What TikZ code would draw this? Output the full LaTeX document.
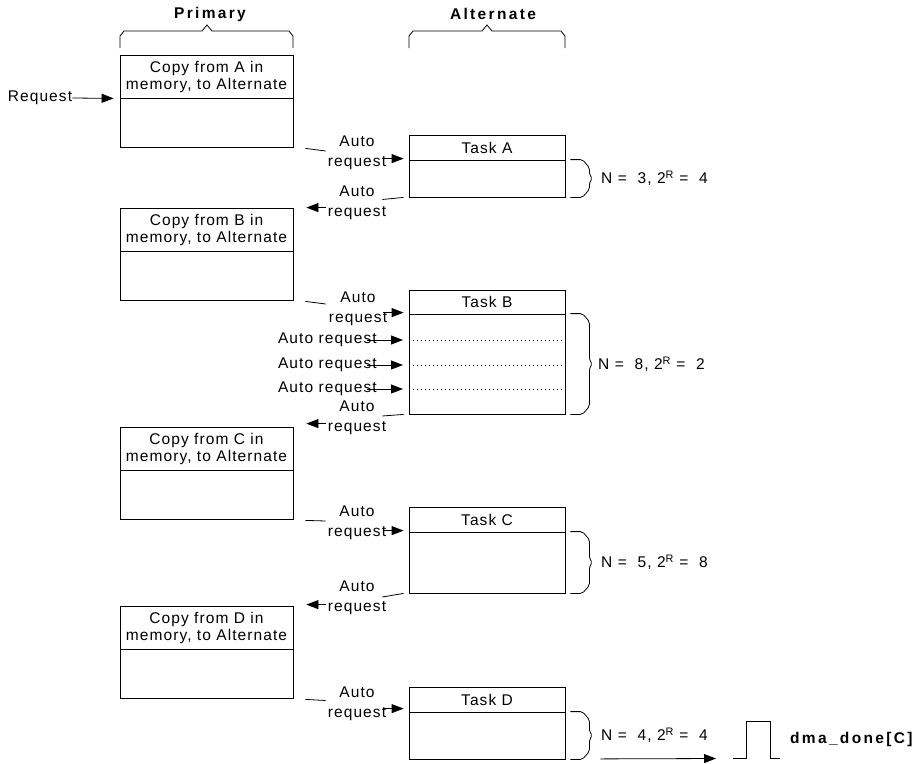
\documentclass[tikz,border=0pt]{standalone}
\usepackage{fontspec}
\setmainfont{Liberation Sans}[LetterSpace=7,BoldFeatures={LetterSpace=15}]
\usetikzlibrary{arrows.meta}

\tikzset{
	txt/.style={font=\fontsize{15.5}{20}\selectfont, inner sep=0},
	head/.style={font=\bfseries\fontsize{15.5}{20}\selectfont, inner sep=0},
	pbox/.style={shape=rectangle, draw, line width=0.8pt, minimum width=173, inner sep=0, align=center, font=\fontsize{15.5}{17}\selectfont},
	tbox/.style={shape=rectangle, draw, line width=0.8pt, minimum width=156, inner sep=0, font=\fontsize{15.5}{20}\selectfont},
	arr/.style={-{Triangle[length=12pt,width=9pt]}, line width=0.8pt},
	brc/.style={line width=0.8pt},
	dots/.style={line width=0.7pt, dash pattern=on 0.8pt off 3.2pt},
}

% right brace next to a task body
\newcommand{\sidebrace}[1]{%
	\draw[brc, rounded corners=2pt] ([shift={(5,0)}]#1.north east) -- ([shift={(17,0)}]#1.north east) -- ([shift={(24,8)}]#1.north east) -- ([shift={(24,-4)}]#1.east) -- ([shift={(27,0)}]#1.east) -- ([shift={(24,4)}]#1.east) -- ([shift={(24,-8)}]#1.south east) -- ([shift={(17,0)}]#1.south east) -- ([shift={(5,0)}]#1.south east);}

\begin{document}
\begin{tikzpicture}[x=1pt, y=-1pt]
	\useasboundingbox (0,0) rectangle (912,763);
	% Headings and brackets:
	\node[head] (Primary) at (210,14) {Primary};
	\node[head] (Alternate) at (493,14) {Alternate};
	\draw[brc] (120,48) -- (120,36) -- (124,31) -- (202,31) -- (207,25) -- (212,31) -- (289,31) -- (293,36) -- (293,48);
	\draw[brc] (409,48) -- (409,36) -- (413,31) -- (482,31) -- (487,25) -- (492,31) -- (561,31) -- (565,36) -- (565,48);
	% Primary boxes:
	\node[pbox, minimum height=43] (PrimA) at (206.5,76.5) {Copy from A in\\memory, to Alternate};
	\node[pbox, minimum height=49] (PrimAlow) at (206.5,122.5) {};
	\node[pbox, minimum height=43] (PrimB) at (206.5,229.5) {Copy from B in\\memory, to Alternate};
	\node[pbox, minimum height=49] (PrimBlow) at (206.5,275.5) {};
	\node[pbox, minimum height=43] (PrimC) at (206.5,448.5) {Copy from C in\\memory, to Alternate};
	\node[pbox, minimum height=49] (PrimClow) at (206.5,494.5) {};
	\node[pbox, minimum height=43] (PrimD) at (206.5,627.5) {Copy from D in\\memory, to Alternate};
	\node[pbox, minimum height=49] (PrimDlow) at (206.5,673.5) {};
	% Alternate boxes:
	\node[tbox, minimum height=25] (TaskA) at (487,147.5) {Task A};
	\node[tbox, minimum height=37] (TaskAbody) at (487,178.5) {};
	\node[tbox, minimum height=24] (TaskB) at (487,302) {Task B};
	\node[tbox, minimum height=100] (TaskBbody) at (487,364) {};
	\node[tbox, minimum height=25] (TaskC) at (487,519.5) {Task C};
	\node[tbox, minimum height=61] (TaskCbody) at (487,562.5) {};
	\node[tbox, minimum height=25] (TaskD) at (487,699.5) {Task D};
	\node[tbox, minimum height=47] (TaskDbody) at (487,735.5) {};
	\coordinate (DotB1) at (409,340);
	\coordinate (DotB2) at (409,365);
	\coordinate (DotB3) at (409,389);
	\draw[dots] (DotB1) -- (DotB1 -| TaskBbody.east);
	\draw[dots] (DotB2) -- (DotB2 -| TaskBbody.east);
	\draw[dots] (DotB3) -- (DotB3 -| TaskBbody.east);
	% Braces and counts:
	\sidebrace{TaskAbody}
	\sidebrace{TaskBbody}
	\sidebrace{TaskCbody}
	\sidebrace{TaskDbody}
	\node[txt, anchor=west] (CountA) at (601,178.5) {N = ~3, 2\textsuperscript{R} = ~4};
	\node[txt, anchor=west] (CountB) at (598,364) {N = ~8, 2\textsuperscript{R} = ~2};
	\node[txt, anchor=west] (CountC) at (601,562.5) {N = ~5, 2\textsuperscript{R} = ~8};
	\node[txt, anchor=west] (CountD) at (601,735.5) {N = ~4, 2\textsuperscript{R} = ~4};
	% Requests:
	\node[txt] (Request) at (40,98) {Request};
	\draw[arr] (Request.east) -- ([shift={(-6,0)}]PrimA.south west);
	\node[txt, align=center] (ReqA) at (357,153) {Auto\\request};
	\node[txt, align=center] (BackA) at (357,202.5) {Auto\\request};
	\node[txt, align=center] (ReqB) at (358,309) {Auto\\request};
	\node[txt, anchor=east] (MidB1) at (377,340) {Auto request};
	\node[txt, anchor=east] (MidB2) at (377,365) {Auto request};
	\node[txt, anchor=east] (MidB3) at (377,389) {Auto request};
	\node[txt, align=center] (BackB) at (357,418) {Auto\\request};
	\node[txt, align=center] (ReqC) at (357,523) {Auto\\request};
	\node[txt, align=center] (BackC) at (357,598) {Auto\\request};
	\node[txt, align=center] (ReqD) at (357,703.5) {Auto\\request};
	\draw[line width=0.8pt] ([shift={(12,1)}]PrimAlow.south east) -- ([shift={(-2,-2)}]ReqA.west);
	\draw[arr] ([shift={(-26,-1)}]TaskAbody.north west) -- ([shift={(-5,-1)}]TaskAbody.north west);
	\draw[line width=0.8pt] ([shift={(-5,0)}]TaskAbody.south west) -- ([shift={(-4,-3)}]BackA.east);
	\draw[arr] ([shift={(33,0)}]PrimB.north east) -- ([shift={(13,0)}]PrimB.north east);
	\draw[line width=0.8pt] ([shift={(12,1)}]PrimBlow.south east) -- ([shift={(-3,-5)}]ReqB.west);
	\draw[arr] ([shift={(-26,-1)}]TaskBbody.north west) -- ([shift={(-5,-1)}]TaskBbody.north west);
	\draw[arr] ([shift={(-42,0)}]DotB1) -- ([shift={(-6,0)}]DotB1);
	\draw[arr] ([shift={(-42,0)}]DotB2) -- ([shift={(-6,0)}]DotB2);
	\draw[arr] ([shift={(-42,0)}]DotB3) -- ([shift={(-6,0)}]DotB3);
	\draw[line width=0.8pt] ([shift={(-5,0)}]TaskBbody.south west) -- ([shift={(-4,-2)}]BackB.east);
	\draw[arr] ([shift={(33,-3)}]PrimC.north east) -- ([shift={(13,-3)}]PrimC.north east);
	\draw[line width=0.8pt] ([shift={(12,1)}]PrimClow.south east) -- ([shift={(-2,-2)}]ReqC.west);
	\draw[arr] ([shift={(-26,-1)}]TaskCbody.north west) -- ([shift={(-5,-1)}]TaskCbody.north west);
	\draw[line width=0.8pt] ([shift={(-5,0)}]TaskCbody.south west) -- ([shift={(-4,-1)}]BackC.east);
	\draw[arr] ([shift={(33,-1)}]PrimD.north east) -- ([shift={(13,-1)}]PrimD.north east);
	\draw[line width=0.8pt] ([shift={(12,1)}]PrimDlow.south east) -- ([shift={(-2,-3)}]ReqD.west);
	\draw[arr] ([shift={(-26,-3)}]TaskDbody.north west) -- ([shift={(-5,-3)}]TaskDbody.north west);
	% Done pulse:
	\coordinate (Pulse) at (733,758.5);
	\draw[arr] ([shift={(35,-0.5)}]TaskDbody.south east) -- ([shift={(-17,0)}]Pulse);
	\draw[line width=0.8pt] (Pulse) -- ++(13,0) -- ++(0,-37) -- ++(24,0) -- ++(0,37) -- ++(10,0);
	\node[head, anchor=west] (Done) at (790,739) {dma\_done[C]};
\end{tikzpicture}
\end{document}
